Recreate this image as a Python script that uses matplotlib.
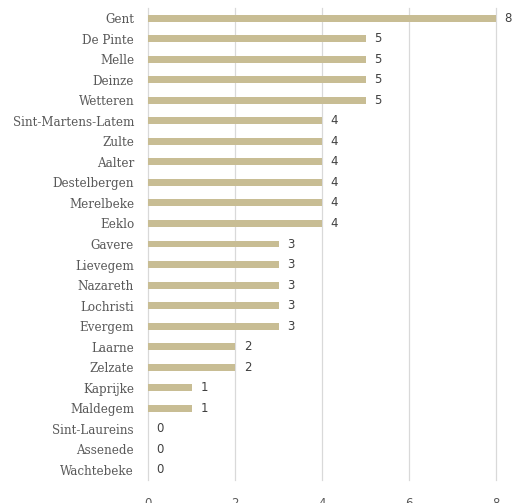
import matplotlib.pyplot as plt

gemeenten = ['Gent', 'De Pinte', 'Melle', 'Deinze', 'Wetteren', 'Sint-Martens-Latem',
             'Zulte', 'Aalter', 'Destelbergen', 'Merelbeke', 'Eeklo', 'Gavere',
             'Lievegem', 'Nazareth', 'Lochristi', 'Evergem', 'Laarne', 'Zelzate',
             'Kaprijke', 'Maldegem', 'Sint-Laureins', 'Assenede', 'Wachtebeke']
aantal = [8, 5, 5, 5, 5, 4, 4, 4, 4, 4, 4, 3, 3, 3, 3, 3, 2, 2, 1, 1, 0, 0, 0]

fig = plt.figure(figsize=(5.13, 5.03), dpi=100)
ax = fig.add_axes([0.2885, 0.0452, 0.6784, 0.9394])

pos = list(range(len(gemeenten)))
ax.barh(pos, aantal, height=0.34, color='#c8bd94', zorder=3)
ax.set_ylim(len(gemeenten) - 0.5, -0.5)
ax.set_xlim(0, 8)
ax.set_xticks([0, 2, 4, 6, 8])
ax.set_yticks(pos)
ax.set_yticklabels(gemeenten, family='DejaVu Serif', fontsize=8.6, color='#595959')
ax.tick_params(axis='x', labelsize=8.5, labelcolor='#595959', length=0, pad=12)
ax.tick_params(axis='y', length=0, pad=10)
ax.grid(axis='x', color='#d9d9d9', linewidth=0.9, zorder=0)
for line in ax.get_xgridlines():
    line.set_clip_on(False)
for s in ax.spines.values():
    s.set_visible(False)

for p, v in zip(pos, aantal):
    ax.text(v + 0.2, p, str(v), va='center', ha='left', fontsize=8.5, color='#404040')

fig.savefig('out.png', dpi=100)
